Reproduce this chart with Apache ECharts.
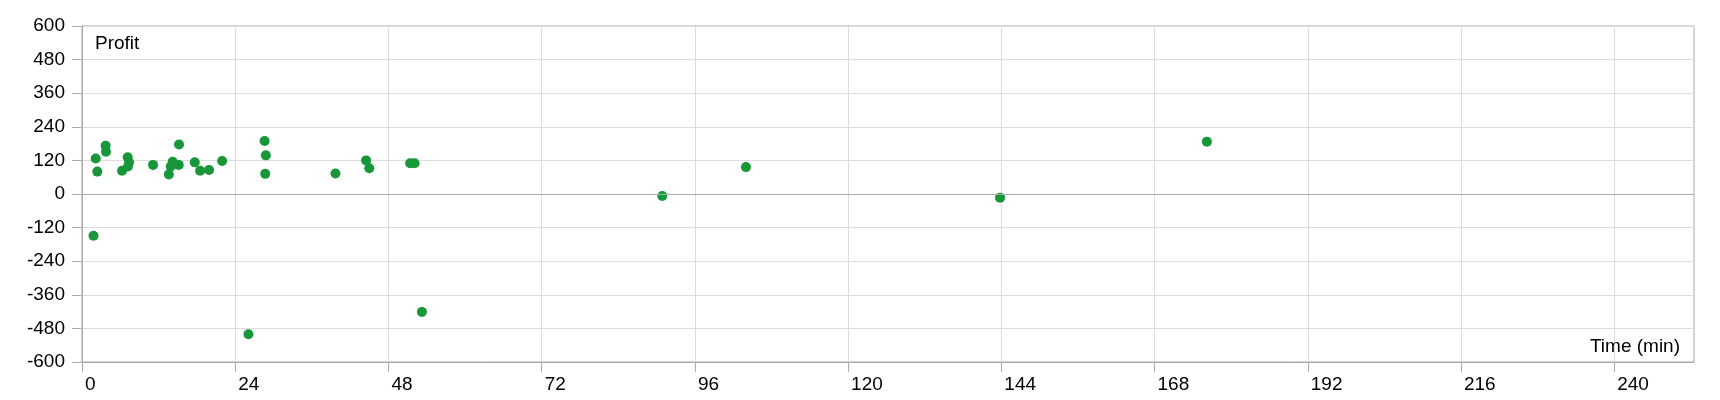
<!DOCTYPE html>
<html>
<head>
<meta charset="utf-8">
<script src="https://cdn.jsdelivr.net/npm/echarts@6/dist/echarts.min.js"></script>
<style>
html,body{margin:0;padding:0;background:#fff;}
#chart{width:1720px;height:400px;}
</style>
</head>
<body>
<div id="chart"></div>
<script>
// Time (min) of each trade
const timeMin = [1.8, 2.15, 2.4, 3.7, 3.76, 6.27, 7.16, 7.37, 7.2, 11.13, 13.6, 13.9, 14.2, 15.15, 15.2, 17.66, 18.5, 19.9, 21.95,
  26.07, 28.6, 28.8, 28.7, 39.7, 44.5, 45.0, 51.4, 52.1, 53.25, 90.9, 104.0, 143.8, 176.2];
// Profit of each trade
const profit = [-149, 127, 80, 172, 151, 83, 131, 113, 98, 104, 70, 98, 115, 104, 177, 113, 83, 86, 118,
  -501, 189, 138, 72, 73, 120, 92, 110, 110, -421, -7, 96, -13, 187];
const xTicks = [0, 24, 48, 72, 96, 120, 144, 168, 192, 216, 240];
const yTicks = [-600, -480, -360, -240, -120, 0, 120, 240, 360, 480, 600];
const xName = 'Time (min)';
const yName = 'Profit';

const points = timeMin.map((t, i) => [t, profit[i]]);
const font = 'Liberation Sans, Arial, sans-serif';
const fs = 19;
const chart = echarts.init(document.getElementById('chart'), null, {renderer: 'canvas'});
chart.setOption({
  animation: false,
  grid: {left: 82, top: 26, right: 26, bottom: 38, show: true, borderColor: '#aaaaaa', borderWidth: 1, containLabel: false},
  xAxis: {
    type: 'value', min: xTicks[0], max: 252.5, interval: 24,
    name: xName, nameLocation: 'end', nameGap: -14,
    nameTextStyle: {align: 'right', verticalAlign: 'bottom', color: '#000', fontFamily: font, fontSize: fs, padding: [0, 0, 6, 0]},
    axisLine: {show: true, onZero: false, lineStyle: {color: '#aaaaaa'}},
    axisTick: {show: true, length: 10, customValues: xTicks, lineStyle: {color: '#aaaaaa'}},
    axisLabel: {customValues: xTicks, align: 'left', margin: 13, padding: [0, 0, 0, 3], color: '#000', fontFamily: font, fontSize: fs},
    splitLine: {show: true, lineStyle: {color: '#dcdcdc'}}
  },
  yAxis: {
    type: 'value', min: yTicks[0], max: yTicks[yTicks.length - 1], interval: 120,
    name: yName, nameLocation: 'end', nameGap: -18,
    nameTextStyle: {align: 'left', verticalAlign: 'middle', color: '#000', fontFamily: font, fontSize: fs, padding: [0, 0, 0, 13]},
    axisLine: {show: true, onZero: false, lineStyle: {color: '#aaaaaa'}},
    axisTick: {show: true, length: 10, lineStyle: {color: '#aaaaaa'}},
    axisLabel: {margin: 17, color: '#000', fontFamily: font, fontSize: fs},
    splitLine: {show: true, lineStyle: {color: '#dcdcdc'}}
  },
  series: [{
    type: 'scatter',
    data: points,
    symbolSize: 10,
    itemStyle: {color: '#17963a', opacity: 1},
    markLine: {
      silent: true, symbol: 'none', label: {show: false},
      lineStyle: {color: '#aaaaaa', type: 'solid', width: 1},
      data: [{yAxis: 0}]
    }
  }]
});
</script>
</body>
</html>
